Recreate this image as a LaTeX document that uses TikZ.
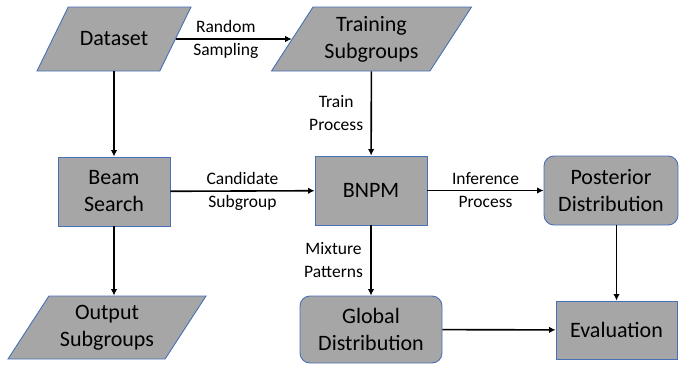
\documentclass[tikz,border=0pt]{standalone}
\usepackage{fontspec}
\setmainfont{Carlito}
\usepackage{xcolor}
\definecolor{colorBox}{RGB}{166,166,166}
\definecolor{colorBorder}{RGB}{72,112,182}
\usepackage{tikz}
\usetikzlibrary{arrows.meta, positioning, shapes.geometric}
\tikzset{
  boxtext/.style={align=center, font=\fontsize{22}{27}\selectfont},
  box/.style={draw=colorBorder, fill=colorBox, line width=0.9pt, inner sep=0pt, boxtext},
  roundbox/.style={box, rounded corners=10pt},
  datanode/.style={box, trapezium, trapezium stretches body, trapezium left angle=#1, trapezium right angle=180-#1,
    text height=32pt, text depth=32pt, text width=0pt},
  datanode/.default=57,
  flowlabel/.style={align=center, font=\fontsize{17.5}{23}\selectfont}
}

\begin{document}
\begin{tikzpicture}[>={Latex[length=6.5pt,width=6.5pt]}, line width=1.6pt, x=1pt, y=-1pt]
\useasboundingbox (0,0) rectangle (679,364);
\node[datanode=64, minimum width=154pt, label={[boxtext]center:Dataset}] (data) at (114,39) {};
\node[datanode, minimum width=200pt, label={[boxtext]center:Training\\Subgroups}] (train) at (371.5,39) {};
\node[box, minimum width=112pt, minimum height=69pt] (beam) at (114,191.5) {Beam\\Search};
\node[box, minimum width=112pt, minimum height=69pt] (bnpm) at (371,190.5) {BNPM};
\node[roundbox, minimum width=134pt, minimum height=69pt] (post) at (611,190.5) {Posterior\\Distribution};
\node[datanode, minimum width=198pt, text height=31.5pt, text depth=31.5pt,
  label={[boxtext]center:Output\\Subgroups}] (out) at (107,327.5) {};
\node[roundbox, minimum width=142pt, minimum height=67pt] (glob) at (371,329.5) {Global\\Distribution};
\node[box, minimum width=121pt, minimum height=58pt] (eval) at (616.5,330) {Evaluation};
\draw [->] (data) -- node [flowlabel, xshift=-8pt]{Random\\Sampling} (train);
\draw [->] (data) -- (beam);
\draw [->] (train) -- node [flowlabel, left=4pt]{Train\\Process} (bnpm);
\draw [->] (beam) -- node [flowlabel]{Candidate\\Subgroup} (bnpm);
\draw [->] (beam) -- (beam |- out.north);
\draw [->] (bnpm) -- node [flowlabel]{Inference\\Process} (post);
\draw [->] (bnpm) -- node [flowlabel, left=4pt]{Mixture\\Patterns} (glob);
\draw [->] (post.south -| eval) -- (eval);
\draw [->] (glob) -- (eval);
\end{tikzpicture}
\end{document}
